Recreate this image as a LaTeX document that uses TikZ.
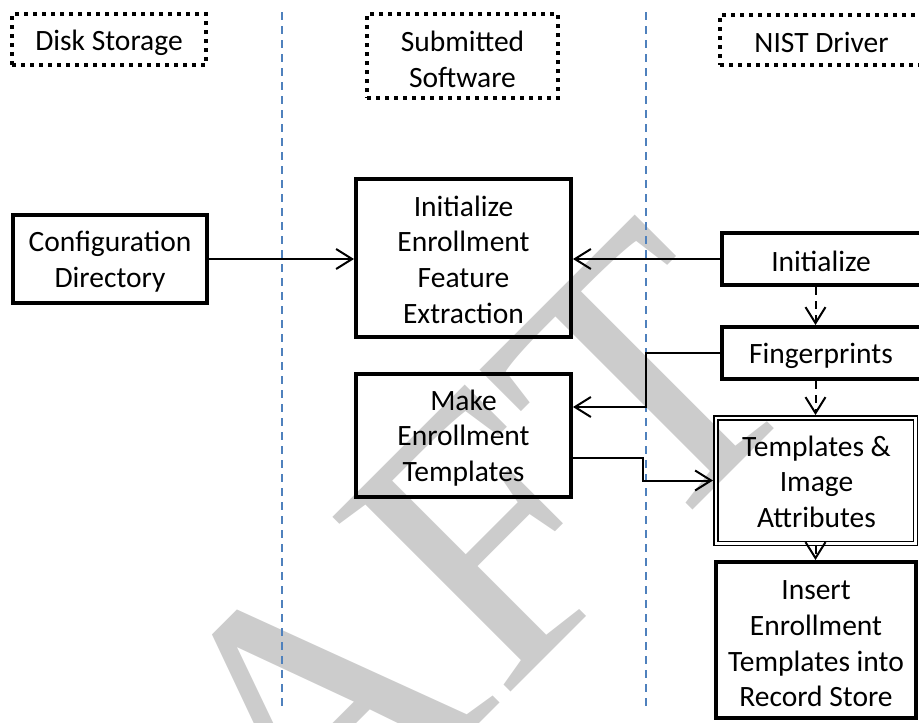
\documentclass[tikz,border=0pt]{standalone}
\usepackage{fontspec}
\setmainfont{Carlito}
\newfontfamily\wmfont[Kerning=Off]{Liberation Serif}
\usetikzlibrary{arrows.meta}
\definecolor{lanecol}{RGB}{79,129,189}
\definecolor{wmgray}{RGB}{204,204,204}
\tikzset{
  lbl/.style={font=\fontsize{29.5}{35.6}\selectfont, align=center, inner sep=0pt, outer sep=0pt},
  solidbox/.style={draw, line width=4pt, inner sep=0pt, outer sep=2pt},
  dotbox/.style={draw, line width=4pt, dash pattern=on 4pt off 5pt, inner sep=0pt, outer sep=0pt},
  dblbox/.style={draw, line width=1.5pt, double, double distance=2.5pt, inner sep=0pt, outer sep=2.75pt},
  lane/.style={draw=lanecol, line width=1.5pt, dash pattern=on 8pt off 6pt},
  arr/.style={line width=2pt, -{Straight Barb[length=16pt,width=20pt]}},
  darr/.style={arr, dash pattern=on 8pt off 6pt},
}
\begin{document}
\begin{tikzpicture}[x=1pt,y=-1pt]
\path[use as bounding box] (0,0) rectangle (919,723);
% watermark
\begin{scope}
\clip (0,0) rectangle (919,723);
\node[rotate=45, anchor=base west, inner sep=0pt, outer sep=0pt, text=wmgray,
      font=\wmfont\fontsize{381}{381}\selectfont] (wm) at (-67,1270) {DRAFT};
\end{scope}
% swim lanes
\coordinate (l1t) at (282,12); \coordinate (l1b) at (282,707);
\coordinate (l2t) at (646,12); \coordinate (l2b) at (646,707);
\draw[lane] (l1t) -- (l1b);
\draw[lane] (l2t) -- (l2b);
% headers
\node[dotbox, minimum width=194pt, minimum height=51pt] (disk) at (109,39.5) {};
\node[lbl] (diskt) at ([yshift=-3.5pt]disk.center) {Disk Storage};
\node[dotbox, minimum width=191pt, minimum height=84pt] (subm) at (462.5,56) {};
\node[lbl] (submt) at ([yshift=-3.5pt]subm.center) {Submitted\\Software};
\node[dotbox, minimum width=203pt, minimum height=50pt] (nist) at (821.5,40) {};
\node[lbl] (nistt) at ([yshift=-2pt]nist.center) {NIST Driver};
% boxes
\node[solidbox, minimum width=194pt, minimum height=88pt] (config) at (110,259) {};
\node[lbl] (configt) at ([yshift=-2.5pt]config.center) {Configuration\\Directory};
\node[solidbox, minimum width=215pt, minimum height=158pt] (initefe) at (463.5,258) {};
\node[lbl] (initefet) at ([yshift=-1.5pt]initefe.center) {Initialize\\Enrollment\\Feature\\Extraction};
\node[solidbox, minimum width=215pt, minimum height=123pt] (make) at (463.5,435.5) {};
\node[lbl] (maket) at ([yshift=-2.5pt]make.center) {Make\\Enrollment\\Templates};
\node[solidbox, minimum width=201pt, minimum height=52pt] (init) at (822.5,259) {};
\node[lbl] (initt) at ([xshift=-1.5pt,yshift=-2pt]init.center) {Initialize};
\node[solidbox, minimum width=201pt, minimum height=52pt] (finger) at (822.5,353) {};
\node[lbl] (fingert) at ([xshift=-1.5pt,yshift=-3pt]finger.center) {Fingerprints};
\node[dblbox, minimum width=199.5pt, minimum height=125.5pt] (templ) at (815.5,480.5) {};
\node[lbl] (templt) at ([xshift=1pt,yshift=-1pt]templ.center) {Templates \&\\Image\\Attributes};
\node[solidbox, minimum width=200pt, minimum height=156pt] (insert) at (816,640) {};
\node[lbl] (insertt) at ([yshift=-4pt]insert.center) {Insert\\Enrollment\\Templates into\\Record Store};
% connectors
\draw[arr] (config.east) -- (config.east -| initefe.west);
\draw[arr] (init.west) -- (init.west -| initefe.east);
\draw[darr] (templ.north |- init.south) -- (templ.north |- finger.north);
\coordinate (mk1) at ([yshift=28.5pt]make.east);
\draw[arr] (finger.west) -| (l2t |- mk1) -- (mk1);
\coordinate (mk2) at ([yshift=-22.5pt]make.east);
\coordinate (jog) at (643,0);
\draw[arr] (mk2) -| (jog |- templ.west) -- (templ.west);
\draw[darr] (templ.north |- finger.south) -- (templ.north);
\draw[darr] (templ.south) -- (templ.south |- insert.north);
\end{tikzpicture}
\end{document}
